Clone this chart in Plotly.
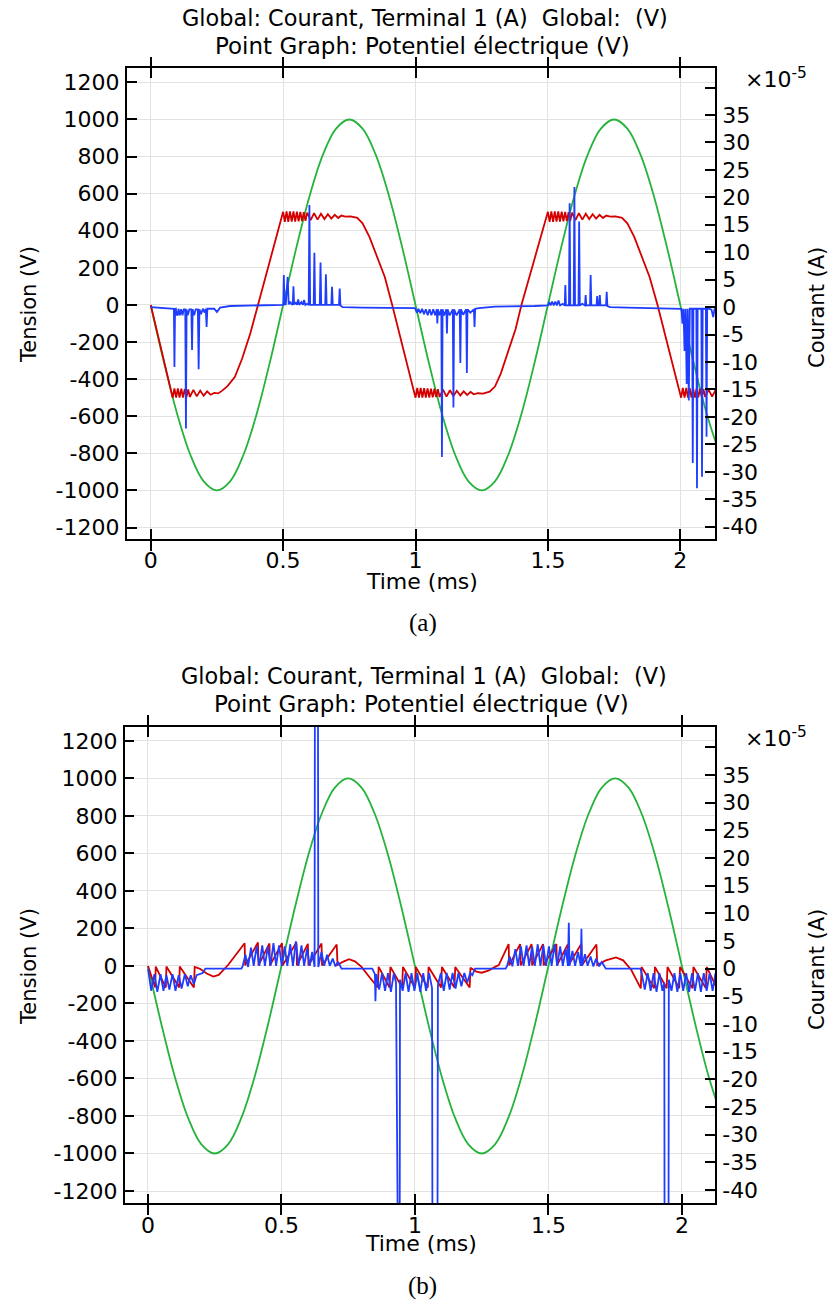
import plotly.graph_objects as go

# ---------------- data ----------------
# time axis (ms) and tension of the green source curve (V), same in (a) and (b)
time_green = [0.00, 0.05, 0.10, 0.15, 0.20, 0.25, 0.30, 0.35, 0.40, 0.45,
              0.50, 0.55, 0.60, 0.65, 0.70, 0.75, 0.80, 0.85, 0.90, 0.95,
              1.00, 1.05, 1.10, 1.15, 1.20, 1.25, 1.30, 1.35, 1.40, 1.45,
              1.50, 1.55, 1.60, 1.65, 1.70, 1.75, 1.80, 1.85, 1.90, 1.95,
              2.00, 2.05, 2.10, 2.15]
tension_green = [0, -309, -588, -809, -951, -1000, -951, -809, -588, -309,
                 0, 309, 588, 809, 951, 1000, 951, 809, 588, 309,
                 0, -309, -588, -809, -951, -1000, -951, -809, -588, -309,
                 0, 309, 588, 809, 951, 1000, 951, 809, 588, 309,
                 0, -309, -588, -809]

# (a) point graph: electric potential (time ms, V)
potentiel_a = [
    (0.000, 0), (0.083, -500), (0.0895, -450), (0.096, -500), (0.1025, -450), (0.109, -500),
    (0.1155, -451), (0.122, -499), (0.1285, -453), (0.135, -498), (0.1415, -455), (0.148, -496),
    (0.161, -458), (0.174, -493), (0.187, -462), (0.200, -489), (0.213, -466), (0.226, -484),
    (0.240, -474), (0.255, -477), (0.270, -462), (0.290, -438), (0.318, -388), (0.345, -290),
    (0.376, -154), (0.405, 0), (0.500, 502),
    (0.5065, 448), (0.513, 505), (0.5195, 448), (0.526, 505), (0.5325, 449), (0.539, 504),
    (0.5455, 450), (0.552, 503), (0.5585, 451), (0.565, 502), (0.5715, 452), (0.578, 500),
    (0.5845, 454), (0.591, 498), (0.604, 457), (0.617, 495), (0.630, 460), (0.643, 492),
    (0.656, 463), (0.669, 489), (0.682, 466), (0.695, 486), (0.708, 469), (0.720, 482),
    (0.735, 476), (0.755, 478), (0.780, 470), (0.800, 440), (0.826, 367), (0.855, 260),
    (0.884, 151), (0.912, 0), (1.000, -500),
    (1.0065, -448), (1.013, -500), (1.0195, -448), (1.026, -500), (1.0325, -449), (1.039, -500),
    (1.0455, -450), (1.052, -499), (1.0585, -451), (1.065, -498), (1.0715, -452), (1.078, -497),
    (1.0845, -454), (1.091, -496), (1.104, -457), (1.117, -494), (1.130, -460), (1.143, -491),
    (1.156, -463), (1.169, -488), (1.182, -466), (1.195, -485), (1.208, -469), (1.220, -482),
    (1.235, -476), (1.255, -478), (1.280, -468), (1.300, -440), (1.322, -370), (1.350, -255),
    (1.378, -130), (1.400, 0), (1.500, 502),
    (1.5065, 448), (1.513, 505), (1.5195, 448), (1.526, 505), (1.5325, 449), (1.539, 504),
    (1.5455, 450), (1.552, 503), (1.5585, 451), (1.565, 502), (1.5715, 452), (1.578, 500),
    (1.5845, 454), (1.591, 498), (1.604, 457), (1.617, 495), (1.630, 460), (1.643, 492),
    (1.656, 463), (1.669, 489), (1.682, 466), (1.695, 486), (1.708, 469), (1.720, 482),
    (1.735, 476), (1.755, 478), (1.780, 470), (1.800, 440), (1.826, 367), (1.855, 260),
    (1.884, 151), (1.914, 0), (2.003, -500),
    (2.0095, -448), (2.016, -500), (2.0225, -448), (2.029, -500), (2.0355, -449), (2.042, -500),
    (2.0485, -450), (2.055, -499), (2.0615, -451), (2.068, -498), (2.0745, -452), (2.081, -497),
    (2.0875, -454), (2.094, -496), (2.107, -457), (2.120, -494), (2.133, -460), (2.146, -491),
]

# (a) global: current, terminal 1 (time ms, units of 1e-5 A)
courant_a = [
    (0.000, 0.0), (0.085, -0.2), (0.0875, -0.3), (0.0896, -10.9), (0.0918, -0.4),
    (0.095, -0.3), (0.098, -1.4), (0.102, -1.4), (0.105, -0.3), (0.110, -1.5), (0.115, -0.4),
    (0.120, -1.5), (0.125, -0.4), (0.1305, -0.4), (0.1330, -22.1), (0.1355, -0.4),
    (0.140, -1.5), (0.146, -0.4), (0.1535, -0.4), (0.1560, -7.8), (0.1585, -0.4),
    (0.164, -1.5), (0.170, -0.4), (0.178, -0.4), (0.181, -11.3), (0.184, -0.4),
    (0.190, -1.3), (0.197, -0.3), (0.204, -1.0), (0.208, -0.3), (0.211, -3.6), (0.214, -0.3),
    (0.240, -0.3), (0.250, -0.9), (0.262, -0.1), (0.300, 0.2), (0.450, 0.3), (0.498, 0.3),
    (0.5005, 0.4), (0.5027, 5.85), (0.5050, 0.5), (0.5100, 0.5), (0.5172, 5.5), (0.521, 0.5),
    (0.527, 1.0), (0.532, 0.5), (0.5365, 0.5), (0.539, 3.8), (0.5415, 0.5), (0.548, 0.8),
    (0.553, 0.4), (0.557, 1.4), (0.561, 0.4), (0.569, 0.9), (0.575, 0.4), (0.579, 1.3),
    (0.584, 0.4), (0.590, 0.6), (0.5965, 0.4), (0.5993, 18.6), (0.6020, 0.4), (0.6155, 0.4),
    (0.6181, 9.9), (0.6208, 0.4), (0.6385, 0.4), (0.6413, 8.1), (0.6440, 0.4), (0.6590, 0.4),
    (0.6616, 6.0), (0.6643, 0.4), (0.6820, 0.4), (0.6847, 3.7), (0.6875, 0.4), (0.7110, 0.4),
    (0.7137, 3.4), (0.7165, 0.3), (0.725, 0.0), (0.800, -0.1), (0.998, -0.2),
    (1.005, -1.0), (1.011, -0.3), (1.018, -1.1), (1.025, -0.3), (1.032, -1.3), (1.039, -0.4),
    (1.046, -1.5), (1.053, -0.4), (1.060, -1.5), (1.067, -0.4), (1.074, -1.5), (1.0805, -0.4),
    (1.0824, -3.0), (1.0845, -0.4), (1.090, -1.5), (1.0975, -0.4), (1.0998, -27.3), (1.1022, -0.4),
    (1.108, -1.5), (1.1165, -0.4), (1.1187, -4.8), (1.121, -0.4), (1.129, -1.5), (1.1408, -0.4),
    (1.1432, -18.3), (1.1456, -0.4), (1.155, -1.5), (1.1669, -0.4), (1.1693, -10.2), (1.1717, -0.4),
    (1.180, -1.4), (1.1915, -0.4), (1.1939, -12.0), (1.1963, -0.4), (1.207, -1.0), (1.2205, -0.4),
    (1.2229, -3.6), (1.2253, -0.3), (1.240, -0.2), (1.300, 0.1), (1.450, 0.2), (1.500, 0.3),
    (1.505, 0.9), (1.510, 0.3), (1.516, 1.0), (1.522, 0.3), (1.528, 1.0), (1.534, 0.3),
    (1.540, 1.2), (1.546, 0.3), (1.556, 0.6), (1.5635, 0.3),
    (1.5658, 4.0), (1.568, 0.3), (1.5795, 0.3), (1.5820, 18.9), (1.5845, 0.3), (1.5975, 0.3),
    (1.6000, 21.9), (1.6025, 0.3), (1.6155, 0.3), (1.6180, 15.6), (1.6205, 0.3), (1.630, 0.6),
    (1.640, 0.3), (1.6425, 2.2), (1.645, 0.3), (1.659, 0.3), (1.6614, 5.85), (1.664, 0.3),
    (1.6835, 0.3), (1.686, 2.0), (1.6885, 0.3), (1.6935, 0.3), (1.696, 2.2), (1.6985, 0.3),
    (1.7195, 0.3), (1.722, 2.8), (1.7245, 0.2), (1.735, 0.0), (1.800, -0.1), (2.000, -0.2),
    (2.004, -0.3), (2.008, -3.0), (2.012, -0.3), (2.016, -8.0), (2.020, -0.3), (2.024, -14.0),
    (2.028, -0.3), (2.032, -17.0), (2.036, -0.3), (2.0445, -0.3), (2.047, -28.4), (2.0495, -0.3),
    (2.0605, -0.3), (2.063, -33.0), (2.0655, -0.3), (2.0795, -0.3), (2.082, -30.9), (2.0845, -0.3),
    (2.0965, -0.3), (2.099, -23.6), (2.1015, -0.3), (2.110, -0.3), (2.118, -0.5), (2.124, -1.8),
    (2.130, -0.2),
]

# (b) point graph: electric potential (time ms, V)
potentiel_b = [
    (0.000, 0), (0.027, -115), (0.029, -3), (0.067, -115), (0.069, -3), (0.117, -115),
    (0.119, -3), (0.172, -115), (0.175, -5), (0.195, -15), (0.220, -40), (0.245, -57),
    (0.265, -48), (0.285, -20), (0.300, 5),
    (0.362, 121), (0.364, 3), (0.412, 125), (0.414, 3), (0.455, 120), (0.457, 3),
    (0.502, 122), (0.504, 3), (0.556, 125), (0.558, 3), (0.599, 118), (0.601, 3),
    (0.650, 120), (0.652, 3), (0.707, 115), (0.710, 5), (0.730, 22), (0.753, 36),
    (0.775, 25), (0.800, -5), (0.830, -60), (0.861, -115),
    (0.864, -5), (0.905, -115), (0.908, -5), (0.952, -115), (0.955, -5), (1.000, -115),
    (1.003, -5), (1.048, -115), (1.051, -5), (1.098, -115), (1.101, -5), (1.148, -115),
    (1.151, -5), (1.205, -115), (1.208, -10), (1.230, -30), (1.250, -36), (1.275, -25),
    (1.300, -5), (1.314, 5),
    (1.351, 117), (1.353, 3), (1.394, 117), (1.396, 3), (1.437, 117), (1.439, 3),
    (1.480, 117), (1.482, 3), (1.530, 117), (1.532, 3), (1.573, 117), (1.575, 3),
    (1.623, 117), (1.625, 3), (1.680, 115), (1.683, 5), (1.715, 30), (1.753, 46),
    (1.780, 30), (1.810, -20), (1.846, -119),
    (1.849, -5), (1.896, -119), (1.899, -5), (1.943, -119), (1.946, -5), (1.990, -119),
    (1.993, -5), (2.040, -119), (2.043, -5), (2.090, -119), (2.093, -5), (2.128, -110),
    (2.131, -10),
]

# (b) global: current, terminal 1 (time ms, units of 1e-5 A)
courant_b = [
    (0.000, 0.0), (0.012, -4.0), (0.024, -1.0), (0.035, -4.2), (0.047, -1.0), (0.058, -4.0),
    (0.069, -1.2), (0.080, -3.8), (0.092, -1.0), (0.103, -4.0), (0.115, -1.2), (0.126, -3.6),
    (0.138, -1.0), (0.149, -3.2), (0.160, -1.2), (0.172, -2.8), (0.182, -1.2), (0.195, -1.0),
    (0.205, -0.8), (0.215, 0.0), (0.350, 0.0),
    (0.355, 0.5), (0.365, 2.5), (0.375, 0.3), (0.386, 3.8), (0.396, 0.5), (0.407, 4.0),
    (0.417, 0.5), (0.428, 4.2), (0.438, 0.5), (0.449, 4.0), (0.459, 0.5), (0.470, 4.6),
    (0.480, 0.5), (0.491, 4.2), (0.501, 0.5), (0.512, 4.0), (0.522, 0.5), (0.533, 4.4),
    (0.543, 0.5), (0.554, 4.9), (0.564, 0.5), (0.575, 4.2), (0.585, 0.5), (0.596, 3.6),
    (0.606, 0.5), (0.615, 3.0), (0.624, 0.3), (0.626, 80.0), (0.636, 80.0), (0.638, 0.3),
    (0.650, 3.0), (0.660, 0.5), (0.671, 2.5), (0.681, 0.5), (0.692, 1.8), (0.702, 0.4),
    (0.712, 1.2), (0.725, 0.0), (0.840, 0.0),
    (0.845, -0.5), (0.850, -1.0), (0.852, -5.9), (0.855, -1.0), (0.866, -3.8), (0.877, -0.8),
    (0.888, -4.0), (0.899, -0.8), (0.910, -4.2), (0.921, -0.8), (0.929, -2.5), (0.931, -90.0),
    (0.942, -90.0), (0.944, -2.0), (0.954, -4.0), (0.965, -0.8), (0.976, -4.2), (0.987, -0.8),
    (0.998, -4.0), (1.009, -0.8), (1.020, -4.2), (1.031, -0.8), (1.042, -4.0), (1.053, -0.8),
    (1.064, -3.5), (1.067, -90.0), (1.083, -90.0), (1.086, -3.0), (1.097, -0.8), (1.108, -4.0),
    (1.119, -0.8), (1.130, -3.8), (1.141, -0.8), (1.152, -3.6), (1.163, -0.8), (1.174, -3.2),
    (1.185, -0.8), (1.196, -2.5), (1.207, -0.8), (1.215, -1.2), (1.225, 0.0), (1.340, 0.0),
    (1.345, 0.5), (1.355, 2.2), (1.365, 0.4), (1.376, 3.5), (1.386, 0.5), (1.397, 4.0),
    (1.407, 0.5), (1.418, 4.2), (1.428, 0.5), (1.439, 4.0), (1.449, 0.5), (1.460, 4.4),
    (1.470, 0.5), (1.481, 4.2), (1.491, 0.5), (1.502, 4.0), (1.512, 0.5), (1.523, 4.4),
    (1.533, 0.5), (1.544, 4.0), (1.554, 0.5), (1.565, 3.6), (1.573, 0.5), (1.5764, 8.3),
    (1.579, 0.5), (1.590, 3.2), (1.600, 0.5), (1.611, 3.0), (1.621, 0.5), (1.6236, 7.2),
    (1.626, 0.5), (1.637, 2.6), (1.647, 0.5), (1.658, 2.2), (1.668, 0.4), (1.679, 1.8),
    (1.690, 0.4), (1.700, 1.2), (1.715, 0.0), (1.845, 0.0),
    (1.850, -1.0), (1.861, -3.8), (1.872, -0.8), (1.883, -4.0), (1.894, -0.8), (1.905, -4.2),
    (1.916, -0.8), (1.927, -4.0), (1.934, -2.5), (1.936, -90.0), (1.949, -90.0), (1.951, -2.0),
    (1.961, -4.0), (1.972, -0.8), (1.983, -4.2), (1.994, -0.8), (2.005, -4.0), (2.016, -0.8),
    (2.027, -4.2), (2.038, -0.8), (2.049, -4.0), (2.060, -0.8), (2.071, -4.2), (2.082, -0.8),
    (2.093, -4.0), (2.104, -0.8), (2.115, -4.0), (2.126, -0.8), (2.137, -3.5),
]

# tick labels
time_ticks = [0, 0.5, 1, 1.5, 2]
time_ticktext = ["0", "0.5", "1", "1.5", "2"]
tension_ticks = [-1200, -1000, -800, -600, -400, -200, 0, 200, 400, 600, 800, 1000, 1200]
tension_ticktext = ["-1200", "-1000", "-800", "-600", "-400", "-200", "0",
                    "200", "400", "600", "800", "1000", "1200"]
courant_ticks_e5 = [-40, -35, -30, -25, -20, -15, -10, -5, 0, 5, 10, 15, 20, 25, 30, 35]
courant_ticktext = ["-40", "-35", "-30", "-25", "-20", "-15", "-10", "-5", "0",
                    "5", "10", "15", "20", "25", "30", "35"]
courant_unlabelled_tick_e5 = [40]

title_line1 = "Global: Courant, Terminal 1 (A)\u00a0\u00a0Global:\u00a0\u00a0(V)"
title_line2 = "Point Graph: Potentiel électrique (V)"

# ---------------- figure ----------------
W, H = 836, 1301
BLUE, GREEN, RED = "#1f3dff", "#25b33b", "#d40000"
FONT = "DejaVu Sans"
LW = 1.8


def px_x(p):
    return p / W


def px_y(p):
    return 1 - p / H


def unzip(pairs):
    return [p[0] for p in pairs], [p[1] for p in pairs]


fig = go.Figure()

ta, va = unzip(potentiel_a)
tia, ia = unzip(courant_a)
tb, vb = unzip(potentiel_b)
tib, ib = unzip(courant_b)

fig.add_trace(go.Scatter(x=time_green, y=tension_green, mode="lines", line=dict(color=GREEN, width=LW, shape="spline"),
                         xaxis="x", yaxis="y", name="Global: (V)"))
fig.add_trace(go.Scatter(x=ta, y=va, mode="lines", line=dict(color=RED, width=LW),
                         xaxis="x", yaxis="y", name="Potentiel électrique (V)"))
fig.add_trace(go.Scatter(x=tia, y=[v * 1e-5 for v in ia], mode="lines", line=dict(color=BLUE, width=LW),
                         xaxis="x", yaxis="y2", name="Courant, Terminal 1 (A)"))

fig.add_trace(go.Scatter(x=time_green, y=tension_green, mode="lines", line=dict(color=GREEN, width=LW, shape="spline"),
                         xaxis="x2", yaxis="y3", name="Global: (V)"))
fig.add_trace(go.Scatter(x=tb, y=vb, mode="lines", line=dict(color=RED, width=LW),
                         xaxis="x2", yaxis="y3", name="Potentiel électrique (V)"))
fig.add_trace(go.Scatter(x=tib, y=[v * 1e-5 for v in ib], mode="lines", line=dict(color=BLUE, width=LW),
                         xaxis="x2", yaxis="y4", name="Courant, Terminal 1 (A)"))

tickfont = dict(family=FONT, size=22, color="black")
common_x = dict(tickmode="array", tickvals=time_ticks, ticktext=time_ticktext, ticks="inside", ticklen=10,
                tickwidth=1.5, tickcolor="black", showline=True, linecolor="black", linewidth=1.6,
                mirror="allticks", showgrid=True, gridcolor="#e2e2e2", gridwidth=1, zeroline=False,
                tickfont=tickfont, ticklabelstandoff=1)
common_yl = dict(tickmode="array", tickvals=tension_ticks, ticktext=tension_ticktext, ticks="inside",
                 ticklen=10, tickwidth=1.5, tickcolor="black", showline=True, linecolor="black",
                 linewidth=1.6, showgrid=True, gridcolor="#e2e2e2", gridwidth=1, zeroline=False,
                 tickfont=tickfont, ticklabelstandoff=1)
common_yr = dict(tickmode="array", tickvals=[v * 1e-5 for v in courant_ticks_e5], ticktext=courant_ticktext,
                 ticks="inside", ticklen=10, tickwidth=1.5, tickcolor="black", showline=True,
                 linecolor="black", linewidth=1.6, showgrid=False, zeroline=False, side="right",
                 tickfont=tickfont, ticklabelstandoff=1,
                 minor=dict(tickmode="array", tickvals=[v * 1e-5 for v in courant_unlabelled_tick_e5],
                            ticks="inside", ticklen=10, tickwidth=1.5, tickcolor="black", showgrid=False))

fig.update_layout(
    width=W, height=H, margin=dict(l=0, r=0, t=0, b=0),
    paper_bgcolor="white", plot_bgcolor="white", showlegend=False,
    font=dict(family=FONT, color="black"),
    xaxis=dict(domain=[px_x(126.7), px_x(715)], range=[-0.0907, 2.131], anchor="y", **common_x),
    yaxis=dict(domain=[px_y(539), px_y(68.3)], range=[-1262, 1276], anchor="x", **common_yl),
    yaxis2=dict(range=[-42.24e-5, 43.5e-5], overlaying="y", anchor="x", **common_yr),
    xaxis2=dict(domain=[px_x(124.6), px_x(715)], range=[-0.0876, 2.124], anchor="y3", **common_x),
    yaxis3=dict(domain=[px_y(1203.3), px_y(726.7)], range=[-1265.6, 1276], anchor="x2", **common_yl),
    yaxis4=dict(range=[-42.4e-5, 43.7e-5], overlaying="y3", anchor="x2", **common_yr),
)

ann = []


def add_text(text, xp, yp, size=21, angle=0, family=FONT, xanchor="center"):
    ann.append(dict(text=text, x=px_x(xp), y=px_y(yp), xref="paper", yref="paper", showarrow=False,
                    xanchor=xanchor, yanchor="middle", textangle=angle,
                    font=dict(family=family, size=size, color="black")))


for top, plot_top, cx, cap, axis_mid, time_y, cap_y in [
        (18, 68.3, 422, "(a)", 305, 581, 623),
        (676, 726.7, 421, "(b)", 967, 1243, 1286)]:
    add_text(title_line1, cx + 3, top, size=22.4)
    add_text(title_line2, cx, top + 28, size=23)
    add_text("×10<sup>-5</sup>", 776, plot_top + 10, size=22)
    add_text("Tension (V)", 29, axis_mid, size=21, angle=-90)
    add_text("Courant (A)", 817, axis_mid + 3, size=21, angle=-90)
    add_text("Time (ms)", cx, time_y, size=22)
    add_text(cap, 423, cap_y, size=25, family="Liberation Serif")

fig.update_layout(annotations=ann)
fig.write_html("out.html")
